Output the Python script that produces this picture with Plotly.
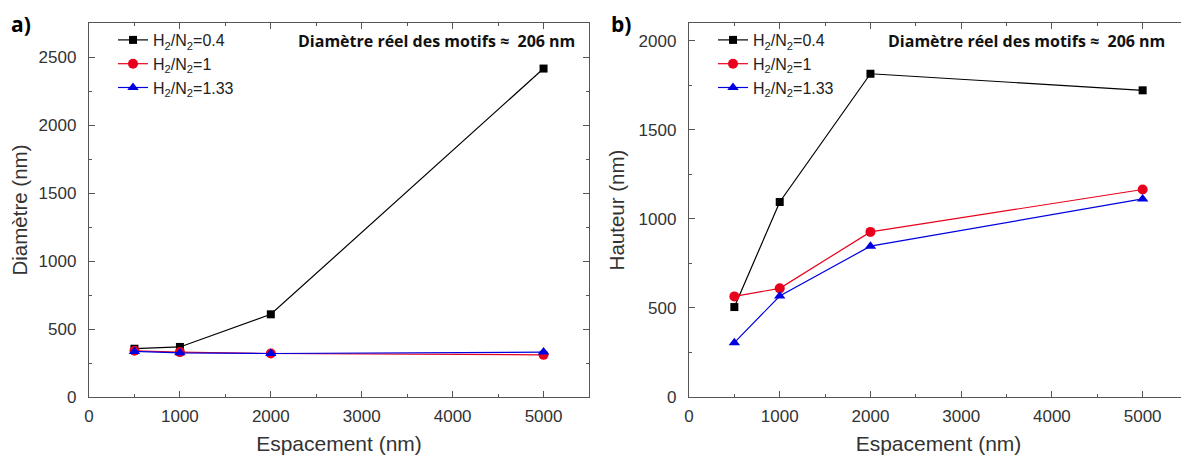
import plotly.graph_objects as go

spacing = [500, 1000, 2000, 5000]
series_names = ["H<sub>2</sub>/N<sub>2</sub>=0.4", "H<sub>2</sub>/N<sub>2</sub>=1", "H<sub>2</sub>/N<sub>2</sub>=1.33"]
colors = ["#000000", "#e8001c", "#0000e0"]
symbols = ["square", "circle", "triangle-up"]
marker_sizes = [8, 10, 10]

diam_04 = [355, 368, 608, 2415]
diam_1 = [340, 330, 320, 310]
diam_133 = [335, 325, 320, 330]

haut_04 = [505, 1095, 1815, 1722]
haut_1 = [565, 610, 927, 1165]
haut_133 = [305, 567, 847, 1112]

annot_text = "Diamètre réel des motifs ≈  206 nm"
x_title = "Espacement (nm)"
y_title_left = "Diamètre (nm)"
y_title_right = "Hauteur (nm)"

# the page body adds an 8 px offset, so the figure is sized to fill the rest of the window
W, H = 1181, 452
ML, MR, MT, MB = 81, 1, 15, 63
PW = W - ML - MR
PH = H - MT - MB

def px(xp):
    return (xp - ML) / PW

fig = go.Figure()

left = [diam_04, diam_1, diam_133]
right = [haut_04, haut_1, haut_133]
for i in range(3):
    fig.add_trace(go.Scatter(x=spacing, y=left[i], name=series_names[i], mode="lines+markers",
                             line=dict(color=colors[i], width=1.2),
                             marker=dict(symbol=symbols[i], size=marker_sizes[i], color=colors[i]),
                             xaxis="x", yaxis="y", legend="legend"))
for i in range(3):
    fig.add_trace(go.Scatter(x=spacing, y=right[i], name=series_names[i], mode="lines+markers",
                             line=dict(color=colors[i], width=1.2),
                             marker=dict(symbol=symbols[i], size=marker_sizes[i], color=colors[i]),
                             xaxis="x2", yaxis="y2", legend="legend2"))

tickfont = dict(family="Liberation Sans, Arial", size=17, color="#333")
xtitlefont = dict(family="Liberation Sans, Arial", size=21, color="#333")
ytitlefont = dict(family="Liberation Sans, Arial", size=20.5, color="#333")

def axis(**kw):
    d = dict(showline=True, linecolor="#555", linewidth=1.3, mirror="allticks",
             ticks="inside", ticklen=6, tickcolor="#555", tickwidth=1.2,
             showgrid=False, zeroline=False, tickfont=tickfont,
             minor=dict(ticks="inside", ticklen=3, tickcolor="#555", showgrid=False))
    d.update(kw)
    return d

dom_left = [0, px(581)]
dom_right = [px(681), 1]

fig.update_layout(
    xaxis=axis(domain=dom_left, range=[0, 5500], dtick=1000, tick0=0, anchor="y",
               ticklabelstandoff=3,
               title=dict(text=x_title, font=xtitlefont, standoff=11)),
    xaxis2=axis(domain=dom_right, range=[0, 5500], dtick=1000, tick0=0, anchor="y2",
                ticklabelstandoff=3,
                title=dict(text=x_title, font=xtitlefont, standoff=11)),
    yaxis=axis(domain=[0, 1], range=[0, 2750], dtick=500, tick0=0, anchor="x",
               ticklabelstandoff=8,
               title=dict(text=y_title_left, font=ytitlefont, standoff=8)),
    yaxis2=axis(domain=[0, 1], range=[0, 2100], dtick=500, tick0=0, anchor="x2",
                ticklabelstandoff=8,
                title=dict(text=y_title_right, font=ytitlefont, standoff=8)),
)
fig.update_xaxes(minor_dtick=500)
fig.update_yaxes(minor_dtick=250)

legend_style = dict(bgcolor="rgba(0,0,0,0)", borderwidth=0, xanchor="left", yanchor="top",
                    font=dict(family="Liberation Sans, Arial", size=16, color="#222"),
                    tracegroupgap=0, itemwidth=30)
fig.update_layout(
    legend=dict(**legend_style, x=px(105), y=1.0, xref="paper", yref="paper"),
    legend2=dict(**legend_style, x=px(705), y=1.0, xref="paper", yref="paper"),
)

ann_font = dict(family="Open Sans, Lato", size=16, color="#111")
ann_y = 1 - 18 / PH
fig.add_annotation(text="<b>" + annot_text + "</b>", x=px(569), y=ann_y, xref="paper", yref="paper",
                   xanchor="right", yanchor="middle", showarrow=False, font=ann_font)
fig.add_annotation(text="<b>" + annot_text + "</b>", x=px(1159), y=ann_y, xref="paper", yref="paper",
                   xanchor="right", yanchor="middle", showarrow=False, font=ann_font)

lab_y = 1 + MT / PH
lab_font = dict(family="Open Sans, Lato", size=21, color="#000")
fig.add_annotation(text="<b>a)</b>", x=px(1), y=lab_y, xref="paper", yref="paper",
                   xanchor="left", yanchor="top", showarrow=False, font=lab_font)
fig.add_annotation(text="<b>b)</b>", x=px(601), y=lab_y, xref="paper", yref="paper",
                   xanchor="left", yanchor="top", showarrow=False, font=lab_font)

fig.update_layout(width=W, height=H, margin=dict(l=ML, r=MR, t=MT, b=MB),
                  plot_bgcolor="white", paper_bgcolor="white", showlegend=True)

fig.write_html("out.html")
